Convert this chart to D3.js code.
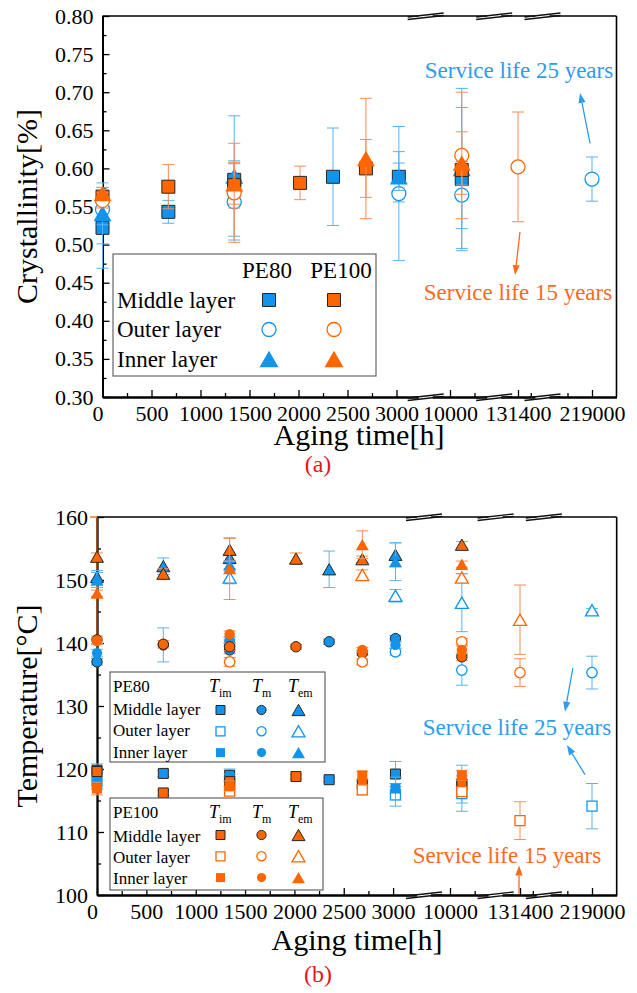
<!DOCTYPE html>
<html>
<head>
<meta charset="utf-8">
<script src="https://cdn.jsdelivr.net/npm/d3@7"></script>
<style>
  html, body { margin: 0; padding: 0; background: #fff; }
  svg { display: block; font-family: "Liberation Serif", "Times New Roman", serif; }
</style>
</head>
<body>
<svg id="chart" width="637" height="993"></svg>
<script>
// ---------------- shared axis values ----------------
const xMajorTicks = [0, 500, 1000, 1500, 2000, 2500, 3000, 10000, 131400, 219000];
const xMinorTicks = [250, 750, 1250, 1750, 2250, 2750, 10250, 131530, 218750];
const axisBreaks = [6500, 95000, 160000];

const crystTicks = [0.30, 0.35, 0.40, 0.45, 0.50, 0.55, 0.60, 0.65, 0.70, 0.75, 0.80];
const crystMinor = [0.325, 0.375, 0.425, 0.475, 0.525, 0.575, 0.625, 0.675, 0.725, 0.775];
const tempTicks = [100, 110, 120, 130, 140, 150, 160];
const tempMinor = [105, 115, 125, 135, 145, 155];

// ---------------- (a) crystallinity: [aging time h, value, error] ----------------
const cryPE80Middle = [[0, 0.522, 0.053], [672, 0.543, 0.015], [1344, 0.585, 0.025], [2352, 0.589, 0.064], [3024, 0.589, 0.033], [10120, 0.586, 0.094]];
const cryPE80Outer  = [[0, 0.546, 0.020], [1344, 0.556, 0.050], [3024, 0.567, 0.088], [10120, 0.565, 0.044], [219000, 0.586, 0.029]];
const cryPE80Inner  = [[0, 0.541, 0.040], [1344, 0.590, 0.079], [3024, 0.589, 0.018], [10120, 0.600, 0.105]];
const cryPE100Middle = [[0, 0.563, 0.008], [672, 0.576, 0.029], [1344, 0.578, 0.030], [2016, 0.581, 0.022], [2688, 0.600, 0.038], [10120, 0.598, 0.020]];
const cryPE100Outer  = [[0, 0.558, 0.010], [1344, 0.568, 0.065], [10120, 0.617, 0.083], [131400, 0.602, 0.072]];
const cryPE100Inner  = [[0, 0.567, 0.008], [1344, 0.580, 0.027], [2688, 0.613, 0.079], [10120, 0.607, 0.041]];

// ---------------- (b) temperatures: [aging time h, value degC, error] ----------------
const pe80TimMiddle = [[0, 119.8, 1.0], [672, 119.3, 0.5], [1344, 119.0, 1.0], [2352, 118.3, 0.3], [3024, 119.2, 2.0], [10120, 117.6, 3.0]];
const pe80TimOuter  = [[0, 118.0, 1.2], [1344, 117.6, 0.8], [3024, 115.9, 1.8], [10120, 116.1, 2.8], [219000, 114.1, 3.6]];
const pe80TimInner  = [[0, 118.4, 1.5], [1344, 118.6, 0.6], [3024, 116.9, 1.8]];
const pe80TmMiddle  = [[0, 137.0, 0.5], [672, 139.7, 2.7], [1344, 138.9, 0.6], [2352, 140.2, 0.4], [3024, 140.7, 0.5]];
const pe80TmOuter   = [[1344, 140.0, 0.5], [3024, 138.6, 0.5], [10120, 135.7, 2.4], [219000, 135.3, 2.6]];
const pe80TmInner   = [[0, 138.4, 0.6], [1344, 140.5, 0.5], [3024, 139.7, 0.5]];
const pe80TemMiddle = [[0, 150.5, 1.0], [672, 152.2, 1.3], [1344, 153.5, 0.5], [2352, 151.7, 2.9], [3024, 154.0, 1.9]];
const pe80TemOuter  = [[1344, 150.4, 1.0], [3024, 147.5, 1.0], [10120, 146.4, 4.6], [219000, 145.2, 0.3]];
const pe80TemInner  = [[0, 150.0, 1.2], [1344, 152.4, 0.6], [3024, 152.9, 3.0]];

const pe100TimMiddle = [[0, 119.6, 0.8], [672, 116.2, 0.4], [1344, 118.0, 0.8], [2016, 118.8, 0.4], [2688, 117.6, 0.5], [10120, 117.6, 0.8]];
const pe100TimOuter  = [[1344, 116.5, 0.7], [2688, 116.7, 0.8], [10120, 116.4, 0.6], [131400, 111.8, 3.0]];
const pe100TimInner  = [[0, 116.9, 1.0], [1344, 117.3, 0.8], [2688, 119.0, 0.6], [10120, 119.0, 0.8]];
const pe100TmMiddle  = [[0, 140.5, 0.6], [672, 139.8, 0.6], [1344, 139.4, 0.6], [2016, 139.4, 0.4], [2688, 138.4, 0.4], [10120, 137.8, 0.6]];
const pe100TmOuter   = [[1344, 137.0, 0.7], [2688, 137.0, 0.5], [10120, 140.2, 0.5], [131400, 135.3, 2.2]];
const pe100TmInner   = [[0, 140.3, 0.5], [1344, 141.4, 0.5], [2688, 138.9, 0.4], [10120, 138.9, 0.6]];
const pe100TemMiddle = [[0, 153.7, 0.6], [672, 151.0, 0.8], [1344, 154.8, 1.8], [2016, 153.4, 0.9], [2688, 153.3, 0.5], [10120, 155.6, 0.5]];
const pe100TemOuter  = [[2688, 150.8, 0.8], [10120, 150.4, 0.6], [131400, 143.7, 5.5]];
const pe100TemInner  = [[0, 147.9, 0.5], [1344, 151.8, 4.9], [2688, 155.6, 2.2], [10120, 152.5, 0.5]];

// ---------------- styling ----------------
const BLUE = "#1294ea", ORANGE = "#ff6600";
const BLUE_BAR = "#5ab2f0", ORANGE_BAR = "#f98c55";
const BLUE_TEXT = "#2c9cf0", ORANGE_TEXT = "#ff6a1a";
const EDGE = "#262626";
const FONT = "Liberation Serif, Times New Roman, serif";

const svg = d3.select("#chart");

// broken time axis: 0-3000 h, then short windows around 10000, 131400 and 219000 h
function makeX(left, k, p10000, p131400, p219000) {
  const dom = [0, 3250, 9800, 10350, 131200, 131550, 218700, 219250];
  const rng = [left, left + 3250 * k, p10000 - 200 * k, p10000 + 350 * k,
               p131400 - 200 * k, p131400 + 150 * k, p219000 - 300 * k, p219000 + 250 * k];
  return d3.scaleLinear().domain(dom).range(rng);
}

function drawMarker(g, cx, cy, shape, style, color, sz) {
  let sym, size, dy = 0;
  if (shape === "square") { sym = d3.symbolSquare; size = sz.sq * sz.sq; }
  else if (shape === "circle") { sym = d3.symbolCircle; size = Math.PI * sz.r * sz.r; }
  else {
    sym = d3.symbolTriangle;
    const yy = sz.tri / (2 * Math.sqrt(3));
    size = 3 * Math.sqrt(3) * yy * yy;
    dy = yy / 2;
  }
  g.append("path")
    .attr("d", d3.symbol(sym, size)())
    .attr("transform", `translate(${cx},${cy + dy})`)
    .attr("fill", style === "open" ? "#fff" : color)
    .attr("stroke", style === "edge" ? EDGE : (style === "open" ? color : "none"))
    .attr("stroke-width", style === "edge" ? 1 : (style === "open" ? 1.3 : 0));
}

function drawSeries(g, x, y, s, sz, capW) {
  const barColor = s.color === BLUE ? BLUE_BAR : ORANGE_BAR;
  s.data.forEach(([t, v, e]) => {
    const cx = x(t);
    const bar = g.append("g").attr("stroke", barColor).attr("stroke-width", 1).attr("fill", "none");
    bar.append("line").attr("x1", cx).attr("x2", cx).attr("y1", y(v - e)).attr("y2", y(v + e));
    [v - e, v + e].forEach(b => bar.append("line")
      .attr("x1", cx - capW / 2).attr("x2", cx + capW / 2).attr("y1", y(b)).attr("y2", y(b)));
  });
  s.data.forEach(([t, v]) => drawMarker(g, x(t), y(v), s.shape, s.style, s.color, sz));
}

function drawFrame(g, x, y, yTicks, yMinor, yFormat) {
  const [x0, x1] = [x.range()[0], x.range()[x.range().length - 1]];
  const [y0, y1] = y.range();
  // top and right edges
  g.append("line").attr("x1", x0).attr("x2", x1).attr("y1", y1).attr("y2", y1)
    .attr("stroke", "#000").attr("stroke-width", 1.6);
  g.append("line").attr("x1", x1).attr("x2", x1).attr("y1", y1).attr("y2", y0)
    .attr("stroke", "#000").attr("stroke-width", 1.6);

  const styleAxis = (sel) => {
    sel.attr("font-family", FONT).attr("font-size", 22);
    sel.select(".domain").attr("stroke-width", 1.8);
    sel.selectAll(".tick line").attr("stroke-width", 1.3);
    sel.selectAll("text").attr("font-family", FONT).attr("font-size", 22).attr("fill", "#000");
  };
  g.append("g").attr("transform", `translate(0,${y0})`)
    .call(d3.axisBottom(x).tickValues(xMinorTicks).tickSize(-4).tickSizeOuter(0).tickFormat(""))
    .call(styleAxis);
  g.append("g").attr("transform", `translate(0,${y0})`)
    .call(d3.axisBottom(x).tickValues(xMajorTicks).tickSize(-7).tickSizeOuter(0).tickPadding(8)
      .tickFormat(d3.format("d")))
    .call(styleAxis)
    .call(s => s.selectAll("text").attr("dy", "0.71em").attr("dx", d => d === 0 ? -5 : 0));
  g.append("g").attr("transform", `translate(${x0},0)`)
    .call(d3.axisLeft(y).tickValues(yMinor).tickSize(-4).tickSizeOuter(0).tickFormat(""))
    .call(styleAxis);
  g.append("g").attr("transform", `translate(${x0},0)`)
    .call(d3.axisLeft(y).tickValues(yTicks).tickSize(-7).tickSizeOuter(0).tickPadding(9).tickFormat(yFormat))
    .call(styleAxis);

  // axis break symbols on the top and bottom edges
  axisBreaks.forEach(b => {
    const bx = x(b);
    [y0, y1].forEach(yy => {
      g.append("rect").attr("x", bx - 7).attr("y", yy - 2).attr("width", 14).attr("height", 4).attr("fill", "#fff");
      g.append("line").attr("x1", bx - 18).attr("y1", yy + 1).attr("x2", bx + 18).attr("y2", yy - 3)
        .attr("stroke", "#111").attr("stroke-width", 1.3);
      g.append("line").attr("x1", bx - 18).attr("y1", yy + 3.5).attr("x2", bx + 18).attr("y2", yy - 0.5)
        .attr("stroke", "#111").attr("stroke-width", 1.3);
    });
  });
}

function arrow(g, x, y, from, to, color) {
  const x1 = x(from[0]), y1 = y(from[1]), x2 = x(to[0]), y2 = y(to[1]);
  const ang = Math.atan2(y2 - y1, x2 - x1);
  const L = 10, W = 3.6;
  const bx = x2 - L * Math.cos(ang), by = y2 - L * Math.sin(ang);
  g.append("line").attr("x1", x1).attr("y1", y1).attr("x2", bx).attr("y2", by)
    .attr("stroke", color).attr("stroke-width", 1.3);
  g.append("path")
    .attr("d", `M${x2},${y2}L${bx - W * Math.sin(ang)},${by + W * Math.cos(ang)}L${bx + W * Math.sin(ang)},${by - W * Math.cos(ang)}Z`)
    .attr("fill", color);
}

function label(g, txt, px, py, opts = {}) {
  return g.append("text").attr("x", px).attr("y", py)
    .attr("font-family", FONT).attr("font-size", opts.size || 22)
    .attr("fill", opts.color || "#000")
    .attr("text-anchor", opts.anchor || "start")
    .text(txt);
}

// ===================== (a) crystallinity =====================
const xa = makeX(102.5, 0.098, 450, 518, 592);
const ya = d3.scaleLinear().domain([0.30, 0.80]).range([397, 16]);
const ga = svg.append("g");

const seriesA = [
  { data: cryPE80Middle, color: BLUE, shape: "square", style: "edge" },
  { data: cryPE80Outer, color: BLUE, shape: "circle", style: "open" },
  { data: cryPE80Inner, color: BLUE, shape: "triangle", style: "solid" },
  { data: cryPE100Middle, color: ORANGE, shape: "square", style: "edge" },
  { data: cryPE100Outer, color: ORANGE, shape: "circle", style: "open" },
  { data: cryPE100Inner, color: ORANGE, shape: "triangle", style: "solid" }
];
const szA = { sq: 13, r: 7, tri: 18 };

drawFrame(ga, xa, ya, crystTicks, crystMinor, d3.format(".2f"));
seriesA.forEach(s => drawSeries(ga, xa, ya, s, szA, 12));

// legend (a)
ga.append("rect").attr("x", 113).attr("y", 254).attr("width", 263).attr("height", 122)
  .attr("fill", "#fff").attr("stroke", "#666").attr("stroke-width", 1.2);
label(ga, "PE80", 267, 278, { size: 23, anchor: "middle" });
label(ga, "PE100", 341, 278, { size: 23, anchor: "middle" });
const layerNames = ["Middle layer", "Outer layer", "Inner layer"];
const layerShapes = [["square", "edge"], ["circle", "open"], ["triangle", "solid"]];
layerNames.forEach((n, i) => {
  label(ga, n, 117, 308 + i * 29.3, { size: 23 });
  drawMarker(ga, 269, 300 + i * 29.5, layerShapes[i][0], layerShapes[i][1], BLUE, { sq: 13, r: 7, tri: 19 });
  drawMarker(ga, 334, 300 + i * 29.5, layerShapes[i][0], layerShapes[i][1], ORANGE, { sq: 13, r: 7, tri: 19 });
});

// service-life notes (a)
label(ga, "Service life 25 years", xa(131400) + 1, ya(0.719), { size: 23, anchor: "middle", color: BLUE_TEXT });
arrow(ga, xa, ya, [218980, 0.633], [218878, 0.699], BLUE_TEXT);
label(ga, "Service life 15 years", xa(131400), ya(0.427), { size: 23, anchor: "middle", color: ORANGE_TEXT });
arrow(ga, xa, ya, [131420, 0.5165], [131370, 0.460], ORANGE_TEXT);

// axis titles (a)
ga.append("text").attr("transform", "translate(37,206.5) rotate(-90)")
  .attr("text-anchor", "middle").attr("font-family", FONT).attr("font-size", 30).text("Crystallinity[%]");
label(ga, "Aging time[h]", 359, 445, { size: 30, anchor: "middle" });
label(ga, "(a)", 318, 472, { size: 24, anchor: "middle", color: "#e8141c" });

// ===================== (b) melting temperatures =====================
const xb = makeX(97, 0.0987, 450, 520, 592);
const yb = d3.scaleLinear().domain([100, 160]).range([895, 517]);
const gb = svg.append("g");

drawFrame(gb, xb, yb, tempTicks, tempMinor, d3.format("d"));

// orange trace along the left edge at 0 h
gb.append("line").attr("x1", xb(0)).attr("x2", xb(0)).attr("y1", yb(160)).attr("y2", yb(136))
  .attr("stroke", "#b5520f").attr("stroke-width", 1.8).attr("opacity", 0.75);
gb.append("line").attr("x1", xb(0) - 7).attr("x2", xb(0)).attr("y1", yb(160)).attr("y2", yb(160))
  .attr("stroke", "#e0661a").attr("stroke-width", 1.3);

const seriesB = [
  { data: pe80TimMiddle, color: BLUE, shape: "square", style: "edge" },
  { data: pe80TimOuter, color: BLUE, shape: "square", style: "open" },
  { data: pe80TimInner, color: BLUE, shape: "square", style: "solid" },
  { data: pe80TmMiddle, color: BLUE, shape: "circle", style: "edge" },
  { data: pe80TmOuter, color: BLUE, shape: "circle", style: "open" },
  { data: pe80TmInner, color: BLUE, shape: "circle", style: "solid" },
  { data: pe80TemMiddle, color: BLUE, shape: "triangle", style: "edge" },
  { data: pe80TemOuter, color: BLUE, shape: "triangle", style: "open" },
  { data: pe80TemInner, color: BLUE, shape: "triangle", style: "solid" },
  { data: pe100TimMiddle, color: ORANGE, shape: "square", style: "edge" },
  { data: pe100TimOuter, color: ORANGE, shape: "square", style: "open" },
  { data: pe100TimInner, color: ORANGE, shape: "square", style: "solid" },
  { data: pe100TmMiddle, color: ORANGE, shape: "circle", style: "edge" },
  { data: pe100TmOuter, color: ORANGE, shape: "circle", style: "open" },
  { data: pe100TmInner, color: ORANGE, shape: "circle", style: "solid" },
  { data: pe100TemMiddle, color: ORANGE, shape: "triangle", style: "edge" },
  { data: pe100TemOuter, color: ORANGE, shape: "triangle", style: "open" },
  { data: pe100TemInner, color: ORANGE, shape: "triangle", style: "solid" }
];
const szB = { sq: 10, r: 5.2, tri: 13 };
seriesB.forEach(s => drawSeries(gb, xb, yb, s, szB, 12));

// legends (b)
function tHeader(g, sub, px, py) {
  const t = g.append("text").attr("x", px).attr("y", py).attr("font-family", FONT).attr("font-size", 18);
  t.append("tspan").attr("font-style", "italic").text("T");
  t.append("tspan").attr("font-size", 12).attr("dy", 5).text(sub);
}
function legendB(top, h, w, title, color, rowBase, symBase) {
  gb.append("rect").attr("x", 110).attr("y", top).attr("width", w).attr("height", h)
    .attr("fill", "#fff").attr("stroke", "#555").attr("stroke-width", 1.1);
  label(gb, title, 113, top + 19.5, { size: 17 });
  tHeader(gb, "im", 209, top + 19.5);
  tHeader(gb, "m", 252, top + 19.5);
  tHeader(gb, "em", 288, top + 19.5);
  const shapes = ["square", "circle", "triangle"];
  const cols = [220.5, 261.5, 298.5];
  const styles = ["edge", "open", "solid"];
  layerNames.forEach((n, i) => {
    label(gb, n, 113, rowBase + i * 21.3, { size: 17 });
    shapes.forEach((sh, j) => drawMarker(gb, cols[j], symBase + i * 21.3, sh, styles[i], color, { sq: 9, r: 4.6, tri: 13 }));
  });
}
legendB(672, 90, 215, "PE80", BLUE, 715, 710);
legendB(798, 92, 213, "PE100", ORANGE, 841.5, 835);

// service-life notes (b)
label(gb, "Service life 25 years", xb(131400) - 3, yb(125.4), { size: 23, anchor: "middle", color: BLUE_TEXT });
arrow(gb, xb, yb, [218806, 136.0], [218726, 129.1], BLUE_TEXT);
arrow(gb, xb, yb, [218929, 119.1], [218746, 123.8], BLUE_TEXT);
label(gb, "Service life 15 years", xb(131400) - 13, yb(105.1), { size: 23, anchor: "middle", color: ORANGE_TEXT });
arrow(gb, xb, yb, [131390, 100.2], [131390, 104.7], ORANGE_TEXT);

// axis titles (b)
gb.append("text").attr("transform", "translate(37,706) rotate(-90)")
  .attr("text-anchor", "middle").attr("font-family", FONT).attr("font-size", 30).text("Temperature[°C]");
label(gb, "Aging time[h]", 357, 950, { size: 30, anchor: "middle" });
label(gb, "(b)", 318, 982, { size: 24, anchor: "middle", color: "#e8141c" });
</script>
</body>
</html>
